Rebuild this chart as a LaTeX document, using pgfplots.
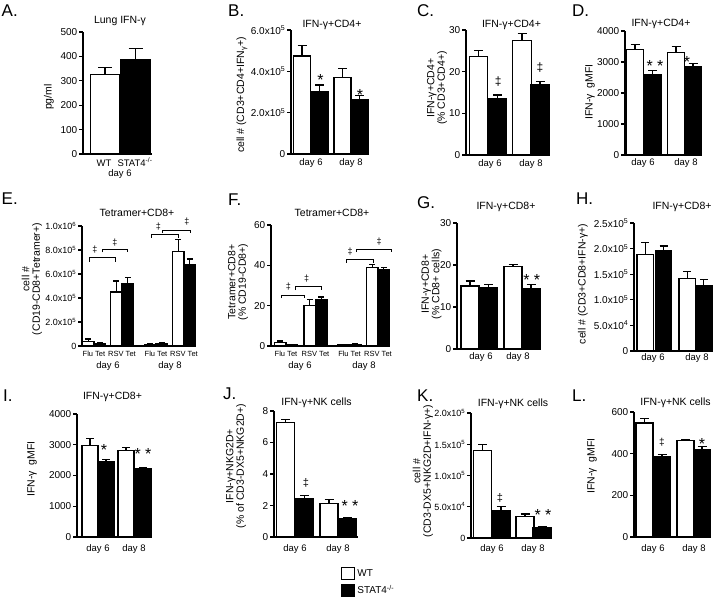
\documentclass[border=0pt]{standalone}
\usepackage{pgfplots}
\pgfplotsset{compat=1.18}
\usepackage{fontspec}
\setmainfont{Liberation Sans}
\newcommand{\fs}[1]{\fontsize{#1}{#1}\selectfont}
\newcommand{\sci}[2]{#1x10\textsuperscript{#2}}
\pgfplotsset{
  panel/.style={
    scale only axis, clip=false,
    axis x line*=bottom, axis y line*=left,
    axis line style={line width=1.1pt},
    xtick=\empty, ymin=0,
    tick align=outside, major tick length=4pt,
    ytick style={line width=1.1pt, black},
    yticklabel style={font=\fs{10}, inner sep=1.5pt},
    /pgf/number format/assume math mode=true,
    /pgf/number format/1000 sep={},
  },
  bars/.style 2 args={ybar, bar shift=0pt, bar width=#1pt, draw=black, line width=1.1pt,
     error bars/y dir=plus, error bars/y explicit,
     error bars/error bar style={line width=1.1pt, black},
     error bars/error mark options={rotate=90, line width=1.1pt, black, mark size=#2pt}},
  wt/.style 2 args={bars={#1}{#2}, fill=white},
  ko/.style 2 args={bars={#1}{#2}, fill=black},
}
\begin{document}
\begin{tikzpicture}
\path[use as bounding box] (0pt,0pt) rectangle (720pt,-602pt);

% ---------- A ----------
\begin{axis}[panel, at={(83pt,-154pt)}, anchor=south west, width=69pt, height=122pt,
  xmin=83, xmax=152, ymax=500, ytick={0,100,...,500}]
\addplot[wt={29}{7}] coordinates {(105,325) +- (0,30)};
\addplot[ko={29}{7}] coordinates {(135.5,386) +- (0,48)};
\end{axis}
% ---------- B ----------
\begin{axis}[panel, at={(291pt,-154pt)}, anchor=south west, width=78pt, height=124pt,
  xmin=291, xmax=369, ymax=6, ytick={0,2,4,6},
  yticklabels={0,\sci{2.0}{5},\sci{4.0}{5},\sci{6.0}{5}}]
\addplot[wt={17}{4.5}] coordinates {(302,4.74) +- (0,0.49) (342.5,3.71) +- (0,0.44)};
\addplot[ko={17}{4.5}] coordinates {(319.5,3.02) +- (0,0.32) (359.5,2.62) +- (0,0.2)};
\end{axis}
% ---------- C ----------
\begin{axis}[panel, at={(466pt,-155pt)}, anchor=south west, width=83pt, height=125pt,
  xmin=466, xmax=549, ymax=30, ytick={0,10,20,30}]
\addplot[wt={18.5}{4.5}] coordinates {(478.5,23.6) +- (0,1.4) (522,27.5) +- (0,1.6)};
\addplot[ko={18.5}{4.5}] coordinates {(497.5,13.6) +- (0,0.8) (540,17.0) +- (0,0.7)};
\end{axis}
% ---------- D ----------
\begin{axis}[panel, at={(625pt,-155pt)}, anchor=south west, width=76pt, height=124pt,
  xmin=625, xmax=701, ymax=4000, ytick={0,1000,...,4000}]
\addplot[wt={17}{4.5}] coordinates {(635,3390) +- (0,170) (676,3305) +- (0,182)};
\addplot[ko={17}{4.5}] coordinates {(652.5,2610) +- (0,128) (693,2856) +- (0,96)};
\end{axis}
% ---------- E ----------
\begin{axis}[panel, at={(82pt,-346pt)}, anchor=south west, width=114pt, height=120pt,
  xmin=82, xmax=196, ymax=10, ytick={0,2,4,6,8,10},
  yticklabel style={font=\fs{9}},
  yticklabels={0,\sci{2.0}{5},\sci{4.0}{5},\sci{6.0}{5},\sci{8.0}{5},\sci{1.0}{6}}]
\addplot[wt={11.5}{3}] coordinates {(88.25,0.36) +- (0,0.22) (116.25,4.5) +- (0,0.92) (150.25,0.15) +- (0,0.05) (178.25,7.9) +- (0,0.96)};
\addplot[ko={11.5}{3}] coordinates {(99.75,0.22) +- (0,0.06) (127.75,5.19) +- (0,0.5) (161.75,0.2) +- (0,0.05) (189.75,6.75) +- (0,0.5)};
\end{axis}
% ---------- F ----------
\begin{axis}[panel, at={(271pt,-346pt)}, anchor=south west, width=119pt, height=121pt,
  xmin=271, xmax=390, ymax=60, ytick={0,20,40,60}]
\addplot[wt={11.5}{3}] coordinates {(280.25,1.6) +- (0,0.9) (309.75,20.1) +- (0,2.8) (343.75,0.5) +- (0,0.2) (372.25,38.9) +- (0,1.6)};
\addplot[ko={11.5}{3}] coordinates {(291.75,0.5) +- (0,0.2) (321.25,23.0) +- (0,1.3) (355.25,0.8) +- (0,0.2) (383.75,37.9) +- (0,1.1)};
\end{axis}
% ---------- G ----------
\begin{axis}[panel, at={(457pt,-349pt)}, anchor=south west, width=83pt, height=126pt,
  xmin=457, xmax=540, ymax=30, ytick={0,10,20,30}]
\addplot[wt={18}{4.5}] coordinates {(470,15.0) +- (0,1.2) (513,19.7) +- (0,0.4)};
\addplot[ko={18}{4.5}] coordinates {(488.5,14.7) +- (0,0.7) (531,14.3) +- (0,1.1)};
\end{axis}
% ---------- H ----------
\begin{axis}[panel, at={(634pt,-351pt)}, anchor=south west, width=78pt, height=128pt,
  xmin=634, xmax=712, ymax=2.5, ytick={0,0.5,1,1.5,2,2.5},
  yticklabels={0,\sci{5.0}{4},\sci{1.0}{5},\sci{1.5}{5},\sci{2.0}{5},\sci{2.5}{5}}]
\addplot[wt={16.5}{4}] coordinates {(645.25,1.88) +- (0,0.24) (687.25,1.42) +- (0,0.14)};
\addplot[ko={16.5}{4}] coordinates {(663.5,1.96) +- (0,0.09) (703.75,1.27) +- (0,0.12)};
\end{axis}
% ---------- I ----------
\begin{axis}[panel, at={(77pt,-537pt)}, anchor=south west, width=75pt, height=123pt,
  xmin=77, xmax=152, ymax=4000, ytick={0,1000,...,4000}]
\addplot[wt={16}{4}] coordinates {(90,2965) +- (0,228) (126,2801) +- (0,109)};
\addplot[ko={16}{4}] coordinates {(106,2452) +- (0,55) (143,2234) +- (0,33)};
\end{axis}
% ---------- J ----------
\begin{axis}[panel, at={(274pt,-537pt)}, anchor=south west, width=84pt, height=126pt,
  xmin=274, xmax=358, ymax=8, ytick={0,2,4,6,8},
  legend style={draw=none, fill=none, at={(0.798,-0.238)}, anchor=north west,
    font=\fs{10}, row sep=3pt, inner sep=0pt, cells={anchor=west}},
  legend cell align=left]
\addlegendimage{legend image code/.code={\draw[line width=1.1pt, fill=white] (0pt,-6pt) rectangle (13pt,6pt);}}
\addlegendentry{WT}
\addlegendimage{legend image code/.code={\draw[line width=1.1pt, fill=black] (0pt,-6pt) rectangle (13pt,6pt);}}
\addlegendentry{STAT4\textsuperscript{-/-}}
\addplot[wt={18}{4.5}, forget plot] coordinates {(285.5,7.26) +- (0,0.21) (329,2.12) +- (0,0.26)};
\addplot[ko={18}{4.5}, forget plot] coordinates {(304.5,2.44) +- (0,0.21) (347.5,1.15) +- (0,0.1)};
\end{axis}
% ---------- K ----------
\begin{axis}[panel, at={(471pt,-538pt)}, anchor=south west, width=80pt, height=125pt,
  xmin=471, xmax=551, ymax=2, ytick={0,0.5,1,1.5,2},
  yticklabel style={font=\fs{9}},
  yticklabels={0,\sci{5.0}{4},\sci{1.0}{5},\sci{1.5}{5},\sci{2.0}{5}}]
\addplot[wt={18}{4.5}] coordinates {(482.5,1.405) +- (0,0.095) (525,0.337) +- (0,0.047)};
\addplot[ko={18}{4.5}] coordinates {(501,0.437) +- (0,0.068) (542,0.17) +- (0,0.02)};
\end{axis}
% ---------- L ----------
\begin{axis}[panel, at={(634pt,-537pt)}, anchor=south west, width=77pt, height=125pt,
  xmin=634, xmax=711, ymax=600, ytick={0,200,400,600}]
\addplot[wt={17}{4.5}] coordinates {(644.5,547) +- (0,22) (685.5,465) +- (0,5)};
\addplot[ko={17}{4.5}] coordinates {(662,386) +- (0,11) (702,421) +- (0,15)};
\end{axis}

\begin{scope}[x=1pt,y=-1pt]
% panel letters
\tikzset{let/.style={anchor=west, inner sep=0pt, font=\fs{17}}}
\node[let] at (1.5,11) {A.};
\node[let] at (228,11) {B.};
\node[let] at (417,11) {C.};
\node[let] at (572,11) {D.};
\node[let] at (1.5,199) {E.};
\node[let] at (228,200) {F.};
\node[let] at (417,203) {G.};
\node[let] at (576,199) {H.};
\node[let] at (3,396) {I.};
\node[let] at (223,394) {J.};
\node[let] at (417,396) {K.};
\node[let] at (572,396) {L.};
% titles
\tikzset{ttl/.style={anchor=base, inner sep=0pt, font=\fs{10.5}}}
\node[ttl] at (120,23.5) {Lung IFN-γ};
\node[ttl] at (332,28) {IFN-γ+CD4+};
\node[ttl] at (511.5,28) {IFN-γ+CD4+};
\node[ttl] at (661,27) {IFN-γ+CD4+};
\node[ttl] at (137,216) {Tetramer+CD8+};
\node[ttl] at (332,216) {Tetramer+CD8+};
\node[ttl] at (506,209) {IFN-γ+CD8+};
\node[ttl] at (682,209.5) {IFN-γ+CD8+};
\node[ttl] at (112.5,399) {IFN-γ+CD8+};
\node[ttl] at (316.5,405) {IFN-γ+NK cells};
\node[ttl] at (513,406.5) {IFN-γ+NK cells};
\node[ttl] at (675.5,405) {IFN-γ+NK cells};
% y labels
\tikzset{yl/.style={rotate=90, inner sep=0pt, align=center, font=\fontsize{10.5}{10.5}\selectfont}}
\node[yl] at (49,97) {pg/ml};
\node[yl] at (242,95) {cell \# (CD3+CD4+IFN\textsubscript{γ}+)};
\node[yl] at (437,88) {IFN-γ+CD4+\\(\% CD3+CD4+)};
\node[yl] at (590,92) {IFN-γ\ \ gMFI};
\node[yl] at (32,279) {cell \#\\(CD19-CD8+Tetramer+)};
\node[yl] at (238,282) {Tetramer+CD8+\\(\% CD19-CD8+)};
\node[yl] at (431.5,284) {IFN-γ+CD8+\\(\% CD8+ cells)};
\node[yl] at (583,284) {cell \# (CD3+CD8+IFN-γ+)};
\node[yl] at (32,469) {IFN-γ\ \ gMFI};
\node[yl] at (236,466) {IFN-γ+NKG2D+\\(\% of CD3-DX5+NKG2D+)};
\node[yl] at (423,471) {cell \#\\(CD3-DX5+NKG2D+IFN-γ+)};
\node[yl] at (592,466) {IFN-γ\ \ gMFI};
% x labels
\tikzset{dl/.style={anchor=base, inner sep=0pt, font=\fs{9.5}}}
\node[dl] at (104,166.5) {WT};
\node[dl] at (135,166.5) {STAT4\textsuperscript{-/-}};
\node[dl] at (120,176) {day 6};
\node[dl] at (311,165.5) {day 6};
\node[dl] at (351,165.5) {day 8};
\node[dl] at (490,166) {day 6};
\node[dl] at (531,166) {day 8};
\node[dl] at (643,165.5) {day 6};
\node[dl] at (686,165.5) {day 8};
\tikzset{fl/.style={anchor=base, inner sep=0pt, font=\fs{7.5}}}
\node[fl] at (94,356.5) {Flu Tet};
\node[fl] at (122,356.5) {RSV Tet};
\node[fl] at (156,356.5) {Flu Tet};
\node[fl] at (184,356.5) {RSV Tet};
\node[fl] at (286,356.5) {Flu Tet};
\node[fl] at (315.5,356.5) {RSV Tet};
\node[fl] at (349.5,356.5) {Flu Tet};
\node[fl] at (378,356.5) {RSV Tet};
\node[dl] at (108,368) {day 6};
\node[dl] at (170,368) {day 8};
\node[dl] at (300,368) {day 6};
\node[dl] at (364,368) {day 8};
\node[dl] at (481,359) {day 6};
\node[dl] at (518,359) {day 8};
\node[dl] at (653,360) {day 6};
\node[dl] at (697,360) {day 8};
\node[dl] at (98,551) {day 6};
\node[dl] at (134,551) {day 8};
\node[dl] at (295,551) {day 6};
\node[dl] at (338,551) {day 8};
\node[dl] at (492,551) {day 6};
\node[dl] at (533,551) {day 8};
\node[dl] at (653,551) {day 6};
\node[dl] at (694,551) {day 8};
% significance marks
\tikzset{st/.style={anchor=north, inner sep=0pt, font=\fs{16}},
         dg/.style={inner sep=0pt, font=\fs{#1}}}
\node[st] at (320.5,74) {*};
\node[st] at (360,89) {*};
\node[dg=12] at (498.3,81.5) {‡};
\node[dg=12] at (540,67.5) {‡};
\node[st] at (655,60) {* *};
\node[st] at (687,56) {*};
\node[st] at (531.7,274) {* *};
\node[st] at (104,444) {*};
\node[st] at (143,448) {* *};
\node[dg=11] at (306,483) {‡};
\node[st] at (350,500) {* *};
\node[dg=11] at (500,498) {‡};
\node[st] at (543,509) {* *};
\node[dg=10] at (662,442.5) {‡};
\node[st] at (702,438) {*};
% brackets E
\tikzset{br/.style={line width=0.9pt}}
\draw[br] (89.5,261.5) -- (89.5,257.7) -- (115,257.7) -- (115,261.5);
\draw[br] (102.7,252.3) -- (102.7,249) -- (127.7,249) -- (127.7,252.3);
\node[dg=9] at (95,249.3) {‡};
\node[dg=9] at (115,242.7) {‡};
\draw[br] (151.7,237.5) -- (151.7,234.3) -- (178,234.3) -- (178,237.5);
\draw[br] (162.3,233) -- (162.3,230) -- (190,230) -- (190,233);
\node[dg=9] at (158.3,226.7) {‡};
\node[dg=9] at (187,222) {‡};
% brackets F
\draw[br] (281.7,298) -- (281.7,295) -- (304,295) -- (304,298);
\draw[br] (295,290) -- (295,286.7) -- (321.7,286.7) -- (321.7,290);
\node[dg=9] at (288.3,286.7) {‡};
\node[dg=9] at (306.7,279) {‡};
\draw[br] (346,262.5) -- (346,259.5) -- (373,259.5) -- (373,262.5);
\draw[br] (356,252) -- (356,249) -- (391,249) -- (391,252);
\node[dg=9] at (350,251.5) {‡};
\node[dg=9] at (379,242) {‡};
\end{scope}
\end{tikzpicture}
\end{document}
